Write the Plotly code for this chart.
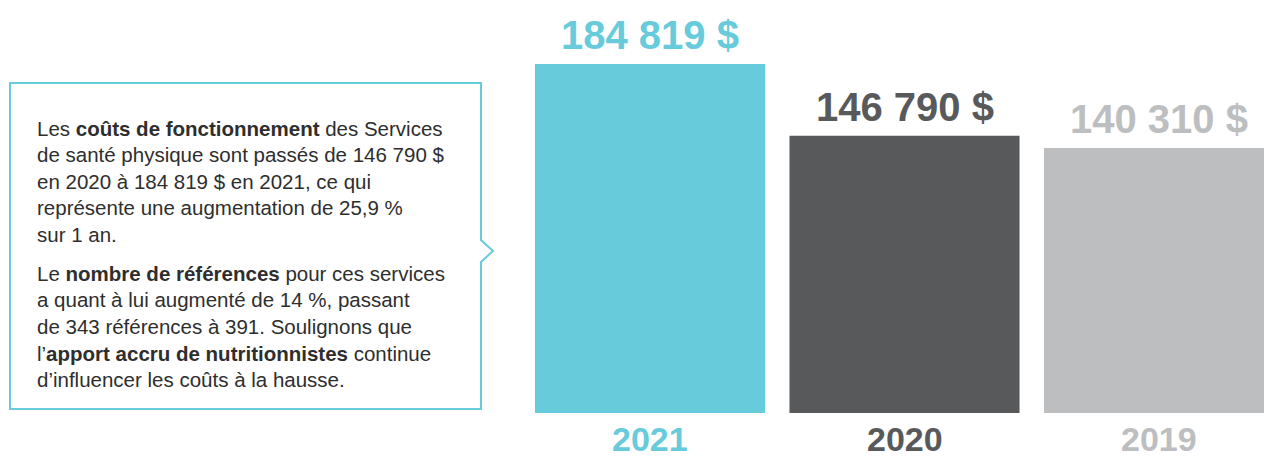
import plotly.graph_objects as go

years = ["2021", "2020", "2019"]
costs = [184819, 146790, 140310]
value_labels = ["184 819 $", "146 790 $", "140 310 $"]
colors = ["#67CBDB", "#58595B", "#BCBEC0"]

para1 = [
    "Les <b>coûts de fonctionnement</b> des Services",
    "de santé physique sont passés de 146 790 $",
    "en 2020 à 184 819 $ en 2021, ce qui",
    "représente une augmentation de 25,9 %",
    "sur 1 an.",
]
para2 = [
    "Le <b>nombre de références</b> pour ces services",
    "a quant à lui augmenté de 14 %, passant",
    "de 343 références à 391. Soulignons que",
    "l’<b>apport accru de nutritionnistes</b> continue",
    "d’influencer les coûts à la hausse.",
]

W, H = 1264, 458
B = 45
PH = H - B  # plot height in px


def px_x(px):
    return px / W


def px_y(py):
    return (PH - py) / PH


fig = go.Figure()
fig.add_trace(go.Bar(
    x=years, y=costs, marker=dict(color=colors, line=dict(width=0)),
    width=0.904, hoverinfo="skip",
))

annotations = []
for i, (yr, v, lab, c) in enumerate(zip(years, costs, value_labels, colors)):
    annotations.append(dict(
        x=i, y=v, xref="x", yref="y", text=lab, showarrow=False,
        yanchor="bottom", xanchor="center", yshift=5,
        font=dict(family="Liberation Sans", size=40, color=c, weight="bold"),
    ))
    annotations.append(dict(
        x=i, y=px_y(439), xref="x", yref="paper", text=yr, showarrow=False,
        yanchor="middle", xanchor="center",
        font=dict(family="Liberation Sans", size=34, color=c, weight="bold"),
    ))

line_ys1 = [128, 154.7, 181.3, 208, 234.7]
line_ys2 = [273, 299.7, 326.3, 353, 379.7]
for lines, ys in ((para1, line_ys1), (para2, line_ys2)):
    for t, yy in zip(lines, ys):
        annotations.append(dict(
            x=px_x(35), y=px_y(yy), xref="paper", yref="paper", text=t,
            showarrow=False, xanchor="left", yanchor="middle",
            font=dict(family="Liberation Sans", size=20.5, color="#2e2e2e"),
        ))

pts = [(10, 83), (481, 83), (481, 240), (493, 251), (481, 262), (481, 409), (10, 409)]
path = "M " + " L ".join(f"{px_x(a):.5f},{px_y(b):.5f}" for a, b in pts) + " Z"

fig.update_layout(
    width=W, height=H,
    margin=dict(l=0, r=0, t=0, b=B, pad=0),
    paper_bgcolor="white", plot_bgcolor="white",
    showlegend=False,
    xaxis=dict(type="category", range=[-650 / 254.5, 614 / 254.5], visible=False),
    yaxis=dict(range=[0, 184819 * PH / 349], visible=False),
    annotations=annotations,
    shapes=[dict(type="path", path=path, xref="paper", yref="paper",
                 line=dict(color="#67CBDB", width=2), fillcolor="white", layer="below")],
)

fig.write_html("out.html")
